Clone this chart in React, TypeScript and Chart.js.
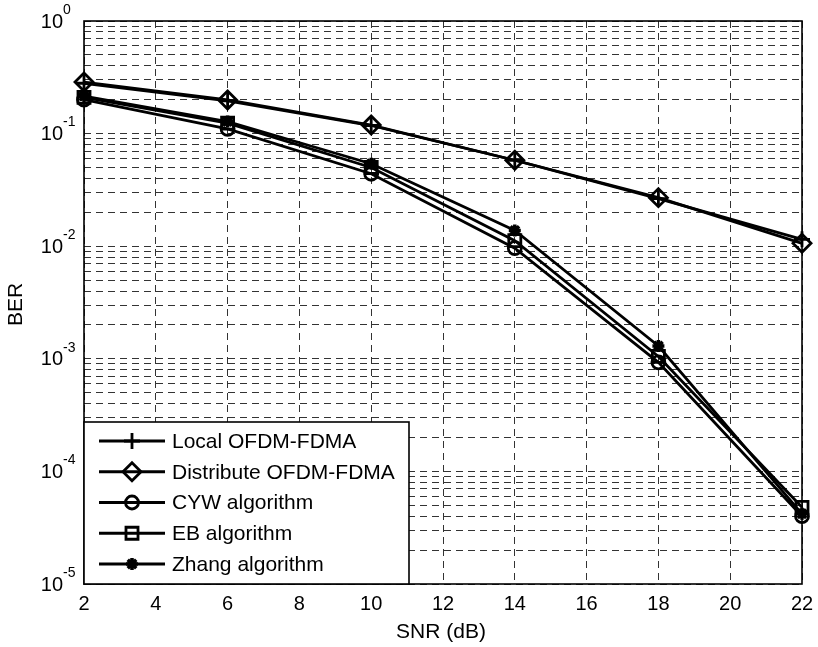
import { useEffect, useRef } from 'react';
import { Chart, registerables } from 'chart.js';
import { drawPoint } from 'chart.js/helpers';

Chart.register(...registerables);

const snrDb = [2, 6, 10, 14, 18, 22];
const localBer = [0.28, 0.195, 0.118, 0.058, 0.0265, 0.0115];
const distributeBer = [0.287, 0.199, 0.119, 0.058, 0.027, 0.0106];
const cywBer = [0.2, 0.11, 0.044, 0.0096, 0.00093, 0.00004];
const ebBer = [0.21, 0.124, 0.05, 0.0112, 0.00105, 0.000048];
const zhangBer = [0.215, 0.128, 0.054, 0.0138, 0.0013, 0.000042];

const seriesLabels = ['Local OFDM-FDMA', 'Distribute OFDM-FDMA', 'CYW algorithm', 'EB algorithm', 'Zhang algorithm'];
const xTickValues = [2, 4, 6, 8, 10, 12, 14, 16, 18, 20, 22];
const yDecades = [0, -1, -2, -3, -4, -5];
const ySignificands = [1, 2, 3, 4, 5, 6, 7, 8, 9];
const xTitle = 'SNR (dB)';
const yTitle = 'BER';

const FONT = '"Liberation Sans", Arial, Helvetica, sans-serif';

const styles = [
  { pointStyle: 'cross', radius: 8, bw: 2.8 },
  { pointStyle: 'rectRot', radius: 9, bw: 2.8 },
  { pointStyle: 'circle', radius: 6.5, bw: 2.8 },
  { pointStyle: 'rect', radius: 8.5, bw: 2.8 },
  { pointStyle: 'star', radius: 6, bw: 3.5 },
];

const seriesData = [localBer, distributeBer, cywBer, ebBer, zhangBer];

const decorPlugin = {
  id: 'decor',
  afterDraw(chart: any) {
    const { ctx, chartArea: a, scales } = chart;
    ctx.save();
    ctx.setLineDash([]);
    // axes box
    ctx.strokeStyle = '#000';
    ctx.lineWidth = 1.6;
    ctx.strokeRect(a.left, a.top, a.right - a.left, a.bottom - a.top);

    // y tick labels 10^n
    ctx.fillStyle = '#000';
    yDecades.forEach((d) => {
      const y = scales.y.getPixelForValue(Math.pow(10, d));
      ctx.font = `20px ${FONT}`;
      ctx.textAlign = 'right';
      ctx.textBaseline = 'middle';
      ctx.fillText('10', a.left - 21, y + 1);
      ctx.font = `14px ${FONT}`;
      ctx.textAlign = 'left';
      ctx.fillText(String(d), a.left - 21, y - 11);
    });

    // axis titles
    ctx.font = `21px ${FONT}`;
    ctx.textAlign = 'center';
    ctx.textBaseline = 'middle';
    ctx.fillText(xTitle, (a.left + a.right) / 2 - 2, 632);
    ctx.save();
    ctx.translate(16, (a.top + a.bottom) / 2 + 2);
    ctx.rotate(-Math.PI / 2);
    ctx.fillText(yTitle, 0, 0);
    ctx.restore();

    // legend
    const lx = a.left;
    const lw = 325;
    const lb = a.bottom;
    const lt = a.bottom - 162;
    ctx.fillStyle = '#fff';
    ctx.fillRect(lx, lt, lw, lb - lt);
    ctx.strokeStyle = '#000';
    ctx.lineWidth = 1.6;
    ctx.strokeRect(lx, lt, lw, lb - lt);
    chart.data.datasets.forEach((ds: any, i: number) => {
      const cy = lt + 19 + i * 30.75;
      ctx.strokeStyle = '#000';
      ctx.lineWidth = 2.8;
      ctx.beginPath();
      ctx.moveTo(lx + 15, cy);
      ctx.lineTo(lx + 81, cy);
      ctx.stroke();
      ctx.fillStyle = 'rgba(0,0,0,0)';
      ctx.lineWidth = styles[i].bw;
      drawPoint(ctx, { pointStyle: styles[i].pointStyle, radius: styles[i].radius, rotation: 0, borderWidth: styles[i].bw } as any, lx + 48, cy);
      ctx.fillStyle = '#000';
      ctx.font = `21px ${FONT}`;
      ctx.textAlign = 'left';
      ctx.textBaseline = 'middle';
      ctx.fillText(ds.label, lx + 88, cy + 1);
    });
    ctx.restore();
  },
};

export default function App() {
  const ref = useRef<HTMLCanvasElement>(null);
  useEffect(() => {
    if (!ref.current) return;
    const datasets = seriesLabels.map((label, i) => ({
      label,
      data: snrDb.map((x, j) => ({ x, y: seriesData[i][j] })),
      borderColor: '#000',
      borderWidth: 2.8,
      backgroundColor: 'rgba(0,0,0,0)',
      pointStyle: styles[i].pointStyle,
      pointRadius: styles[i].radius,
      pointBorderWidth: styles[i].bw,
      pointBorderColor: '#000',
      pointBackgroundColor: 'rgba(0,0,0,0)',
      tension: 0,
      fill: false,
      clip: false,
    }));
    const yTickValues: number[] = [];
    yDecades.slice().reverse().forEach((d) => {
      ySignificands.forEach((s) => {
        const v = s * Math.pow(10, d);
        if (v <= 1) yTickValues.push(v);
      });
    });
    const chart = new Chart(ref.current, {
      type: 'line',
      data: { datasets: datasets as any },
      plugins: [decorPlugin],
      options: {
        responsive: false,
        animation: false,
        devicePixelRatio: 1,
        layout: { padding: { left: 0, top: 21, right: 16, bottom: 0 } },
        plugins: { legend: { display: false }, tooltip: { enabled: false } },
        scales: {
          x: {
            type: 'linear',
            min: 2,
            max: 22,
            afterBuildTicks: (s: any) => {
              s.ticks = xTickValues.map((v) => ({ value: v }));
            },
            afterFit: (s: any) => {
              s.height = 63;
              s.paddingLeft = 0;
              s.paddingRight = 0;
            },
            ticks: {
              color: '#000',
              font: { family: FONT, size: 20 },
              padding: 8,
              autoSkip: false,
              maxRotation: 0,
            },
            grid: { color: '#333', lineWidth: 1, drawTicks: false },
            border: { display: false, dash: [7, 5] },
          },
          y: {
            type: 'logarithmic',
            min: 1e-5,
            max: 1,
            afterBuildTicks: (s: any) => {
              s.ticks = yTickValues.map((v) => ({ value: v }));
            },
            afterFit: (s: any) => {
              s.width = 84;
              s.paddingTop = 0;
              s.paddingBottom = 0;
            },
            ticks: { callback: () => '', autoSkip: false },
            grid: { color: '#333', lineWidth: 1, drawTicks: false },
            border: { display: false, dash: [7, 5] },
          },
        },
      },
    });
    return () => chart.destroy();
  }, []);
  return (
    <div style={{ position: 'absolute', left: 0, top: 0, width: 818, height: 647, background: '#fff' }}>
      <canvas ref={ref} width={818} height={647} />
    </div>
  );
}
